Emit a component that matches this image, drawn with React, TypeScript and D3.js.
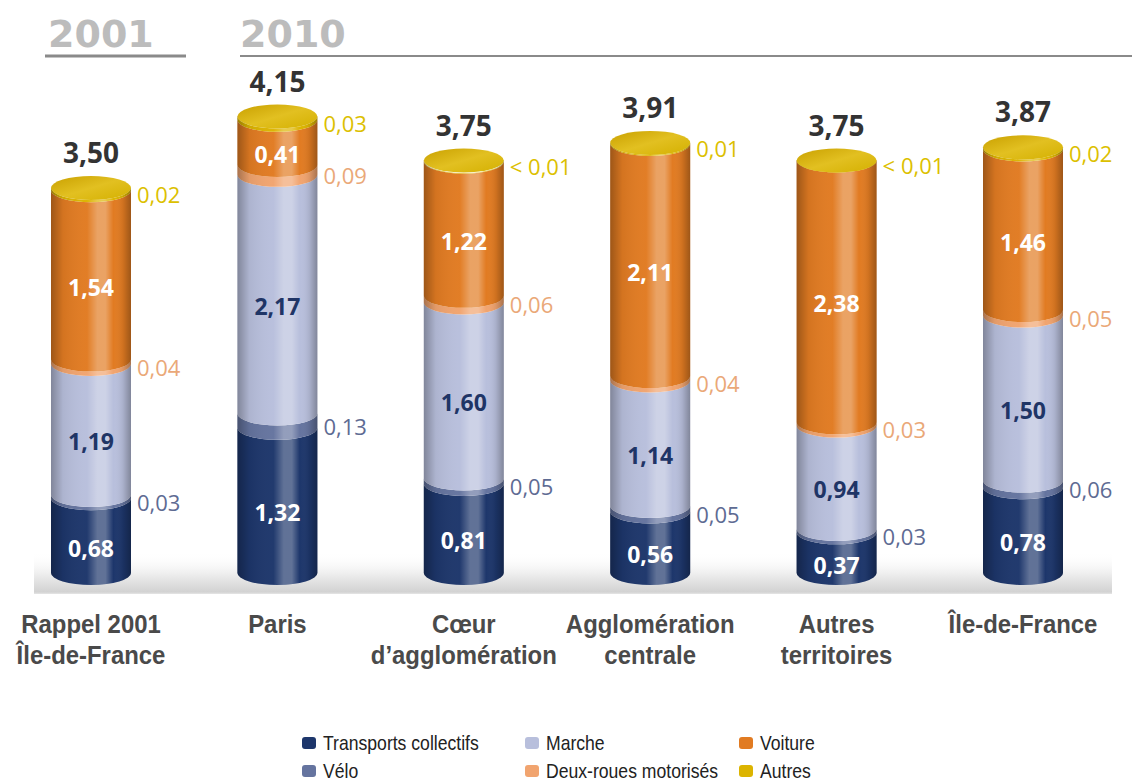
import React from "react";
import * as d3 from "d3";

const categories = [
  ["Rappel 2001", "Île-de-France"],
  ["Paris"],
  ["Cœur", "d’agglomération"],
  ["Agglomération", "centrale"],
  ["Autres", "territoires"],
  ["Île-de-France"],
];
const transports = [0.68, 1.32, 0.81, 0.56, 0.37, 0.78];
const velo = [0.03, 0.13, 0.05, 0.05, 0.03, 0.06];
const marche = [1.19, 2.17, 1.6, 1.14, 0.94, 1.5];
const deuxRoues = [0.04, 0.09, 0.06, 0.04, 0.03, 0.05];
const voiture = [1.54, 0.41, 1.22, 2.11, 2.38, 1.46];
const autres = [0.02, 0.03, 0.005, 0.01, 0.005, 0.02];
const autresLabels = ["0,02", "0,03", "< 0,01", "0,01", "< 0,01", "0,02"];
const totals = [3.5, 4.15, 3.75, 3.91, 3.75, 3.87];
const years = ["2001", "2010"];

const seriesKeys = ["transports", "velo", "marche", "deuxRoues", "voiture", "autres"];
const seriesNames = ["Transports collectifs", "Vélo", "Marche", "Deux-roues motorisés", "Voiture", "Autres"];
const seriesColors = ["#1d366b", "#65749f", "#b8bfdc", "#f1a46f", "#e17b22", "#dcb400"];
const sideColors: Record<string, string> = { velo: "#5e6b93", deuxRoues: "#eaa878", autres: "#dcc000" };
const insideColors: Record<string, string> = { transports: "#ffffff", marche: "#1f3566", voiture: "#ffffff" };

const fmt = (v: number) => v.toFixed(2).replace(".", ",");

export default function App() {
  const W = 1132, H = 784;
  const rows = categories.map((c, i) => ({
    i,
    transports: transports[i],
    velo: velo[i],
    marche: marche[i],
    deuxRoues: deuxRoues[i],
    voiture: voiture[i],
    autres: autres[i],
  }));
  const stacked = d3.stack<any>().keys(seriesKeys)(rows);
  const x = d3.scalePoint<number>().domain(categories.map((_, i) => i)).range([91, 1023]);
  const y = d3.scaleLinear().domain([0, 4.2]).range([573, 573 - 4.2 * 110]);
  const rx = 40, ry = 12;
  const font = "'Open Sans', 'Noto Sans', sans-serif";
  const narrow = "'Liberation Sans', Arial, sans-serif";

  const segPath = (cx: number, y0: number, y1: number) => {
    const l = cx - rx, r = cx + rx;
    return `M${l},${y1} A${rx},${ry} 0 0 0 ${r},${y1} L${r},${y0} A${rx},${ry} 0 0 1 ${l},${y0} Z`;
  };
  const bodyPath = (cx: number, yTop: number, yBot: number) => {
    const l = cx - rx, r = cx + rx;
    return `M${l},${yTop} L${l},${yBot} A${rx},${ry} 0 0 0 ${r},${yBot} L${r},${yTop} Z`;
  };

  return (
    <svg width={W} height={H} style={{ display: "block", position: "absolute", left: 0, top: 0, background: "#fff" }}>
      <defs>
        <linearGradient id="shade" x1="0" x2="1" y1="0" y2="0">
          <stop offset="0" stopColor="#000" stopOpacity="0.3" />
          <stop offset="0.15" stopColor="#000" stopOpacity="0.06" />
          <stop offset="0.45" stopColor="#fff" stopOpacity="0.02" />
          <stop offset="0.58" stopColor="#fff" stopOpacity="0.3" />
          <stop offset="0.68" stopColor="#fff" stopOpacity="0.3" />
          <stop offset="0.78" stopColor="#fff" stopOpacity="0.0" />
          <stop offset="0.9" stopColor="#000" stopOpacity="0.08" />
          <stop offset="1" stopColor="#000" stopOpacity="0.3" />
        </linearGradient>
        <linearGradient id="cap" x1="0" x2="1" y1="0" y2="1">
          <stop offset="0" stopColor="#c9a000" />
          <stop offset="0.5" stopColor="#e2c021" />
          <stop offset="1" stopColor="#d4b000" />
        </linearGradient>
        <linearGradient id="floor" x1="0" x2="0" y1="0" y2="1">
          <stop offset="0" stopColor="#ffffff" stopOpacity="0" />
          <stop offset="0.55" stopColor="#ececec" />
          <stop offset="0.95" stopColor="#d2d2d2" />
          <stop offset="1" stopColor="#e6e6e6" />
        </linearGradient>
      </defs>

      {/* headers */}
      <text x={48} y={47} fontFamily="'DejaVu Sans', sans-serif" fontWeight="bold" fontSize={38} fill="#bcbcbc">{years[0]}</text>
      <line x1={45} x2={186} y1={56} y2={56} stroke="#8a8a8a" strokeWidth={3} />
      <text x={240} y={47} fontFamily="'DejaVu Sans', sans-serif" fontWeight="bold" fontSize={38} fill="#bcbcbc">{years[1]}</text>
      <line x1={240} x2={1132} y1={56} y2={56} stroke="#8a8a8a" strokeWidth={2} />

      {/* floor */}
      <rect x={34} y={552} width={1078} height={42} fill="url(#floor)" />

      {categories.map((_, i) => {
        const cx = x(i)!;
        const top = y(totals[i]);
        return (
          <g key={i}>
            {stacked.map((s, k) => {
              const d = s[i];
              return <path key={k} d={segPath(cx, y(d[0]), y(d[1]))} fill={seriesColors[k]} />;
            })}
            <path d={bodyPath(cx, top, y(0))} fill="url(#shade)" />
            <ellipse cx={cx} cy={top} rx={rx} ry={ry} fill="url(#cap)" />
            <text x={cx} y={top - 36} textAnchor="middle" dominantBaseline="central" fontFamily={font} fontWeight="bold" fontSize={28} fill="#333">
              {fmt(totals[i])}
            </text>
            {stacked.map((s, k) => {
              const key = seriesKeys[k];
              const d = s[i];
              const mid = (y(d[0]) + y(d[1])) / 2;
              if (insideColors[key]) {
                return (
                  <text key={key} x={cx} y={mid + ry} textAnchor="middle" dominantBaseline="central" fontFamily={font} fontWeight="bold" fontSize={23} fill={insideColors[key]}>
                    {fmt(d[1] - d[0])}
                  </text>
                );
              }
              const label = key === "autres" ? autresLabels[i] : fmt(d[1] - d[0]);
              return (
                <text key={key} x={cx + rx + 6} y={mid + 5} dominantBaseline="central" fontFamily={font} fontSize={22} fill={sideColors[key]}>
                  {label}
                </text>
              );
            })}
            <g transform={`translate(${cx},0) scale(0.92,1)`}>
              <text x={0} y={633} textAnchor="middle" fontFamily={narrow} fontWeight="bold" fontSize={26} fill="#4a4a4a">
                {categories[i].map((line, j) => (
                  <tspan key={j} x={0} dy={j === 0 ? 0 : 31}>{line}</tspan>
                ))}
              </text>
            </g>
          </g>
        );
      })}

      {/* legend */}
      {[[0, 0, 0], [2, 0, 1], [4, 0, 2], [1, 1, 0], [3, 1, 1], [5, 1, 2]].map(([k, r, c]) => {
        const lx = [302, 525, 739][c];
        const ly = [743, 771][r];
        return (
          <g key={k}>
            <rect x={lx} y={ly - 6} width={14} height={12} rx={3} fill={seriesColors[k]} />
            <g transform={`translate(${lx + 21},${ly}) scale(0.88,1)`}>
              <text x={0} y={0} dominantBaseline="central" fontFamily={narrow} fontSize={20} fill="#222">{seriesNames[k]}</text>
            </g>
          </g>
        );
      })}
    </svg>
  );
}
